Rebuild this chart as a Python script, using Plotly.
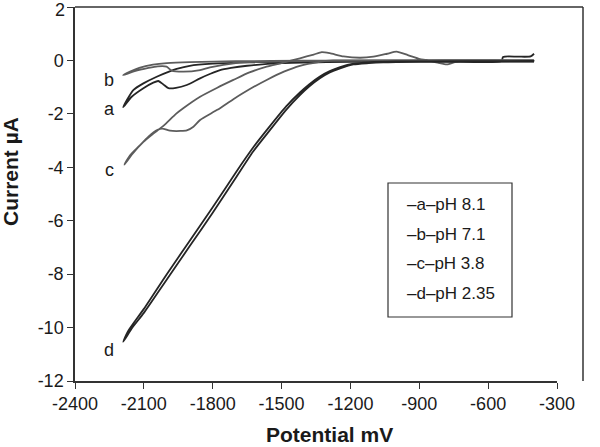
import plotly.graph_objects as go

# ---- data ----
a_x = [-400, -415, -470, -535, -542, -800, -1100, -1300, -1500, -1650, -1720, -1768, -1810, -1855, -1913, -1960, -1993, -2015, -2037, -2059, -2102, -2153, -2190,
       -2175, -2146, -2102, -2044, -1990, -1957, -1900, -1800, -1650, -1400, -1100, -700, -400]
a_y = [0.25, 0.15, 0.14, 0.13, -0.03, -0.03, -0.04, -0.06, -0.10, -0.20, -0.28, -0.36, -0.50, -0.67, -0.92, -1.03, -1.04, -0.90, -0.77, -0.83, -1.04, -1.36, -1.75,
       -1.50, -1.11, -0.86, -0.61, -0.42, -0.32, -0.20, -0.12, -0.07, -0.04, -0.03, -0.03, -0.03]

b_x = [-400, -800, -1200, -1500, -1700, -1812, -1855, -1928, -1979, -2001, -2040, -2080, -2140, -2190,
       -2160, -2120, -2060, -2000, -1900, -1700, -1400, -1000, -400]
b_y = [0.00, 0.00, -0.01, -0.03, -0.10, -0.26, -0.36, -0.42, -0.38, -0.23, -0.22, -0.28, -0.40, -0.55,
       -0.42, -0.28, -0.16, -0.10, -0.06, -0.03, -0.01, 0.00, 0.01]

c_x = [-400, -700, -740, -780, -820, -870, -897, -950, -999, -1040, -1100, -1158, -1230, -1290, -1325, -1360, -1420, -1500, -1565, -1640, -1710, -1780, -1855, -1930, -1960, -2015, -2060, -2102, -2150, -2185,
       -2160, -2120, -2080, -2040, -2020, -1986, -1940, -1913, -1884, -1855, -1780, -1710, -1640, -1565, -1490, -1420, -1340, -1275, -1100, -800, -400]
c_y = [0.00, -0.01, -0.05, -0.15, -0.08, 0.02, 0.05, 0.20, 0.33, 0.25, 0.14, 0.10, 0.15, 0.27, 0.31, 0.22, 0.08, -0.10, -0.23, -0.45, -0.73, -1.02, -1.36, -1.80, -2.00, -2.45, -2.75, -3.05, -3.50, -3.90,
       -3.55, -3.20, -2.85, -2.60, -2.55, -2.63, -2.64, -2.62, -2.48, -2.23, -1.85, -1.45, -1.08, -0.73, -0.42, -0.20, -0.06, 0.00, 0.00, 0.01, 0.00]

d_x = [-400, -800, -1000, -1057, -1120, -1187, -1245, -1290, -1333, -1380, -1420, -1480, -1550, -1623, -1700, -1800, -1900, -2000, -2100, -2150, -2190,
       -2170, -2100, -2000, -1900, -1800, -1700, -1623, -1550, -1480, -1420, -1380, -1333, -1290, -1245, -1187, -1120, -1000, -700, -400]
d_y = [-0.04, -0.05, -0.06, -0.07, -0.10, -0.15, -0.30, -0.45, -0.67, -0.98, -1.30, -1.85, -2.60, -3.40, -4.40, -5.70, -6.95, -8.20, -9.45, -10.00, -10.53,
       -10.15, -9.30, -8.00, -6.75, -5.50, -4.20, -3.25, -2.45, -1.72, -1.20, -0.90, -0.60, -0.40, -0.25, -0.12, -0.07, -0.04, -0.03, -0.03]

series_names = ["a", "b", "c", "d"]
series_ph = ["pH 8.1", "pH 7.1", "pH 3.8", "pH 2.35"]
series_x = [a_x, b_x, c_x, d_x]
series_y = [a_y, b_y, c_y, d_y]
series_colors = ["#252525", "#5c5c5c", "#5c5c5c", "#252525"]

# curve label positions (data coords)
label_x = [-2250, -2250, -2250, -2250]
label_y = [-1.82, -0.72, -4.12, -10.84]

x_ticks = [-2400, -2100, -1800, -1500, -1200, -900, -600, -300]
x_ticktext = ["-2400", "-2100", "-1800", "-1500", "-1200", "-900", "-600", "-300"]
y_ticks = [-12, -10, -8, -6, -4, -2, 0, 2]
y_ticktext = ["-12", "-10", "-8", "-6", "-4", "-2", "0", ""]  # top label drawn separately (nudged down to stay inside)
y_top_label = "2"

FONT = "Liberation Sans, Arial, sans-serif"

fig = go.Figure()
for nm, xs, ys, col in zip(series_names, series_x, series_y, series_colors):
    fig.add_trace(go.Scatter(x=xs, y=ys, mode="lines", name=nm,
                             line=dict(color=col, width=1.8, shape="spline", smoothing=0.6),
                             showlegend=False))

L, R, T, B = 75, 43, 7, 66
W, H = 600, 447
pw, ph = W - L - R, H - T - B

def px(xp):
    return (xp - L) / pw

def py(yp):
    return (T + ph - yp) / ph

annotations = []
for nm, lx, ly in zip(series_names, label_x, label_y):
    annotations.append(dict(x=lx, y=ly, xref="x", yref="y", text=nm, showarrow=False,
                            font=dict(family=FONT, size=18, color="#1a1a1a")))

# top y tick label
annotations.append(dict(x=px(67), y=py(10), xref="paper", yref="paper", text=y_top_label,
                        showarrow=False, xanchor="right", yanchor="middle",
                        font=dict(family=FONT, size=18, color="#1a1a1a")))

# legend box texts
leg_y = [204, 234, 263, 293]
for nm, ph_txt, yy in zip(series_names, series_ph, leg_y):
    annotations.append(dict(x=px(405), y=py(yy), xref="paper", yref="paper",
                            text="\u2013" + nm + "\u2013" + ph_txt, showarrow=False,
                            xanchor="left", yanchor="middle",
                            font=dict(family=FONT, size=17, color="#1a1a1a")))

# axis titles
annotations.append(dict(x=px(329), y=py(435), xref="paper", yref="paper", text="<b>Potential mV</b>",
                        showarrow=False, xanchor="center", yanchor="middle",
                        font=dict(family=FONT, size=21, color="#1a1a1a")))
annotations.append(dict(x=px(10), y=py(172), xref="paper", yref="paper", text="<b>Current µA</b>",
                        showarrow=False, xanchor="center", yanchor="middle", textangle=-90,
                        font=dict(family=FONT, size=21, color="#1a1a1a")))

shapes = [
    dict(type="line", xref="paper", yref="paper", x0=0, x1=px(583), y0=1, y1=1,
         line=dict(color="#333333", width=1.5)),
    dict(type="line", xref="paper", yref="paper", x0=px(583), x1=px(583), y0=1, y1=0,
         line=dict(color="#333333", width=1.5)),
    dict(type="rect", xref="paper", yref="paper", x0=px(388), x1=px(512), y0=py(183), y1=py(317),
         line=dict(color="#333333", width=1.2), fillcolor="rgba(0,0,0,0)"),
]

fig.update_layout(
    width=W, height=H,
    margin=dict(l=L, r=R, t=T, b=B, pad=0, autoexpand=False),
    paper_bgcolor="white", plot_bgcolor="white",
    font=dict(family=FONT, size=18, color="#1a1a1a"),
    annotations=annotations, shapes=shapes,
    xaxis=dict(range=[-2400, -300], tickvals=x_ticks, ticktext=x_ticktext, ticks="outside", ticklen=6,
               tickwidth=1.2, automargin=False, ticklabeloverflow="allow",
               tickcolor="#333333", showline=True, linecolor="#333333", linewidth=1.5,
               showgrid=False, zeroline=False, tickfont=dict(family=FONT, size=18, color="#1a1a1a")),
    yaxis=dict(range=[-12, 2], tickvals=y_ticks, ticktext=y_ticktext, ticks="outside", ticklen=6,
               tickwidth=1.2, automargin=False, ticklabeloverflow="allow",
               tickcolor="#333333", showline=True, linecolor="#333333", linewidth=1.5,
               showgrid=False, zeroline=False, tickfont=dict(family=FONT, size=18, color="#1a1a1a")),
)

fig.write_html("out.html", config={"displayModeBar": False},
               post_script="document.body.style.margin='0';document.body.style.overflow='hidden';")
